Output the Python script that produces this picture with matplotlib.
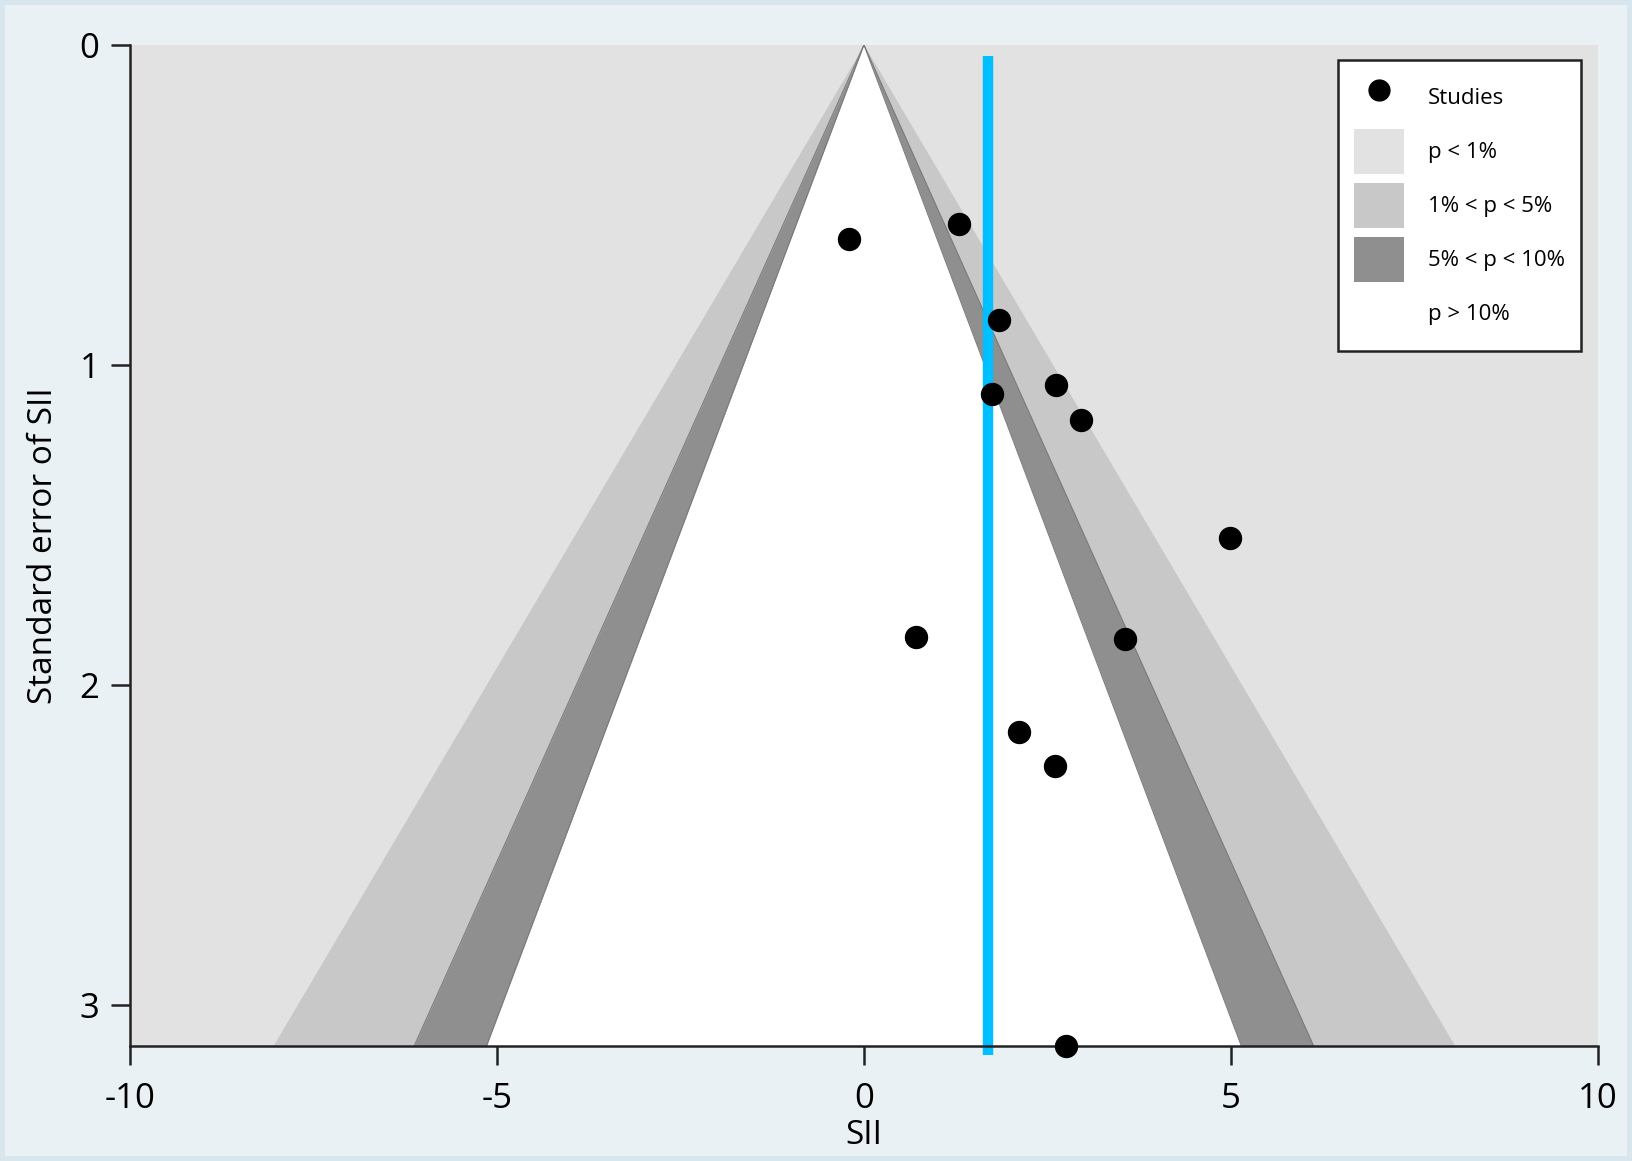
import numpy as np
import matplotlib.pyplot as plt
from matplotlib.patches import Patch
from matplotlib.lines import Line2D

plt.rcParams['font.family'] = ['Open Sans', 'DejaVu Sans']
plt.rcParams['axes.unicode_minus'] = False

# study estimates (SII) and their standard errors
sii = [-0.20, 1.30, 1.84, 1.74, 2.62, 2.96, 4.99, 0.71, 3.56, 2.11, 2.60, 2.75]
se = [0.608, 0.559, 0.858, 1.092, 1.063, 1.173, 1.541, 1.849, 1.856, 2.145, 2.252, 3.127]
pooled = 1.69

# z values for the contour bands
z_levels = [2.576, 1.96, 1.645]
band_cols = ['#c8c8c8', '#8f8f8f', '#ffffff']
bg_col = '#e2e2e2'

fig = plt.figure(figsize=(16.32, 11.61), dpi=100, facecolor='#e9f1f5',
                 edgecolor='#d8e6ee', linewidth=6)
ax = fig.add_axes([0.0797, 0.099, 0.8993, 0.8624])
ax.set_facecolor(bg_col)

se_max = max(se)
s = np.linspace(0, se_max, 200)
for z, c in zip(z_levels, band_cols):
    ax.fill_betweenx(s, -z * s, z * s, color=c, linewidth=0, zorder=1)
# thin edges around the 5-10% band
for z in [1.96, 1.645]:
    ax.plot(z * s, s, color='#7c7c7c', lw=0.8, zorder=1.5)
    ax.plot(-z * s, s, color='#7c7c7c', lw=0.8, zorder=1.5)

ax.plot([pooled, pooled], [0.035, 3.155], color='#00bfff', lw=7.5,
        solid_capstyle='butt', zorder=2, clip_on=False)
ax.scatter(sii, se, s=250, color='black', zorder=3, clip_on=False)

ax.set_xlim(-10, 10)
ax.set_ylim(se_max, 0)
ax.set_xticks([-10, -5, 0, 5, 10])
ax.set_yticks([0, 1, 2, 3])
ax.spines['top'].set_visible(False)
ax.spines['right'].set_visible(False)
for sp in ['left', 'bottom']:
    ax.spines[sp].set_linewidth(1.8)
    ax.spines[sp].set_color('#222222')
ax.tick_params(axis='both', length=14, width=1.8, color='#222222',
               labelsize=25, pad=8)
ax.tick_params(axis='x', pad=12)

ax.set_xlabel('SII', fontsize=24, labelpad=2)
ax.set_ylabel('Standard error of SII', fontsize=24, labelpad=14)

handles = [
    Line2D([], [], marker='o', color='black', linestyle='None', markersize=15),
    Patch(facecolor=bg_col, edgecolor='none'),
    Patch(facecolor=band_cols[0], edgecolor='none'),
    Patch(facecolor=band_cols[1], edgecolor='none'),
    Patch(facecolor='white', edgecolor='none'),
]
labels = ['Studies', 'p < 1%', '1% < p < 5%', '5% < p < 10%', 'p > 10%']
leg = ax.legend(handles, labels, loc='upper right', bbox_to_anchor=(0.9885, 0.985),
                fontsize=16, frameon=True, fancybox=False, edgecolor='#222222',
                facecolor='white', framealpha=1,
                handlelength=2.25, handleheight=2.7, labelspacing=0.43,
                borderpad=0.7, handletextpad=1.1, borderaxespad=0)
leg.get_frame().set_linewidth(1.8)

fig.savefig('out.png', dpi=100, facecolor=fig.get_facecolor(),
            edgecolor=fig.get_edgecolor())
